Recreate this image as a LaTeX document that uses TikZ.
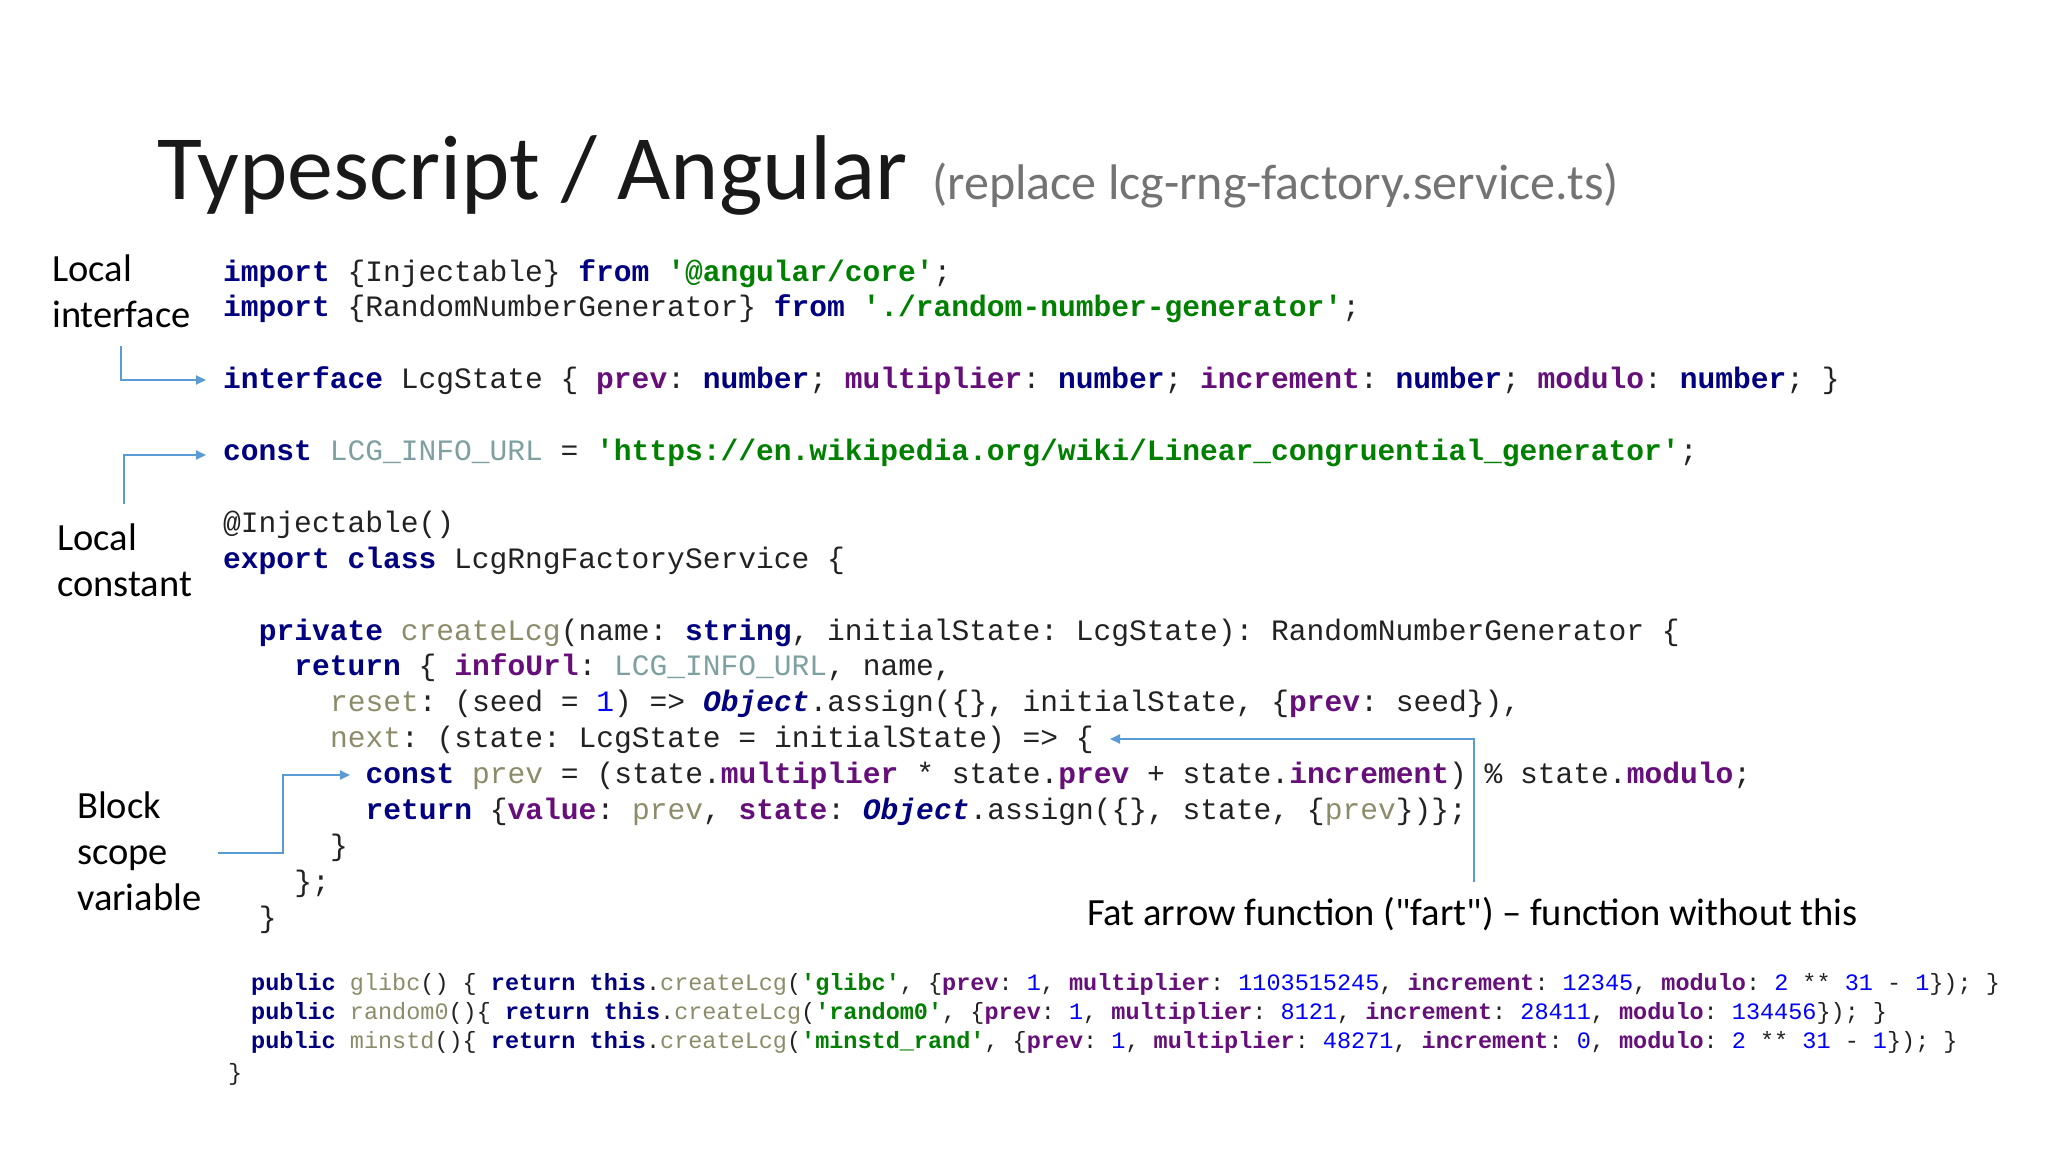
\documentclass[tikz,border=0pt]{standalone}
\usepackage{fontspec}
\setmainfont{Carlito}
\setmonofont{Liberation Mono}
\newfontfamily\plainfont{Carlito}
\usetikzlibrary{arrows.meta}
\definecolor{kwc}{HTML}{000080}
\definecolor{stc}{HTML}{008000}
\definecolor{prc}{HTML}{660E7A}
\definecolor{fnc}{HTML}{8C8C6A}
\definecolor{cnc}{HTML}{7FA0A0}
\definecolor{nmc}{HTML}{0000FF}
\definecolor{txc}{HTML}{222222}
\definecolor{arc}{HTML}{5B9BD5}
\newcommand\kw[1]{{\bfseries\color{kwc}#1}}
\newcommand\ob[1]{{\bfseries\itshape\color{kwc}#1}}
\newcommand\stx[1]{{\bfseries\color{stc}#1}}
\newcommand\prx[1]{{\bfseries\color{prc}#1}}
\newcommand\fnx[1]{{\color{fnc}#1}}
\newcommand\cnx[1]{{\color{cnc}#1}}
\newcommand\nmx[1]{{\color{nmc}#1}}
\begin{document}
\begin{tikzpicture}[x=1pt,y=-1pt,
  code/.style={anchor=base west,inner sep=0pt,font=\ttfamily\fontsize{29.6}{36}\selectfont,text=txc},
  small/.style={anchor=base west,inner sep=0pt,font=\ttfamily\fontsize{23.5}{28}\selectfont,text=txc},
  lbl/.style={anchor=base west,inner sep=0pt,font=\fontsize{38.5}{46}\selectfont,text=black,align=left},
  arr/.style={draw=arc,line width=2pt,-{Triangle[length=10pt,width=9pt]}}]
\useasboundingbox[fill=white] (0,0) rectangle (2048,1152);
\node[anchor=base west,inner sep=0pt,font=\fontsize{92}{100}\selectfont,text=black!90] (title) at (157,199) {Typescript / Angular};
\node[anchor=base west,inner sep=0pt,font=\fontsize{50}{60}\selectfont,text=black!55] (sub) at (932,199) {(replace lcg-rng-factory.service.ts)};
% code
\def\L#1#2#3#4{\node[code] (#1) at (223+#2*17.8, 281+#3*35.9) {#4};}
\L{c0}{0}{0}{\kw{import} \{Injectable\} \kw{from} \stx{'@angular/core'};}
\L{c1}{0}{1}{\kw{import} \{RandomNumberGenerator\} \kw{from} \stx{'./random-number-generator'};}
\L{c3}{0}{3}{\kw{interface} LcgState \{ \prx{prev}: \kw{number}; \prx{multiplier}: \kw{number}; \prx{increment}: \kw{number}; \prx{modulo}: \kw{number}; \}}
\L{c5}{0}{5}{\kw{const} \cnx{LCG\_INFO\_URL} = \stx{'https://en.wikipedia.org/wiki/Linear\_congruential\_generator'};}
\L{c7}{0}{7}{@Injectable()}
\L{c8}{0}{8}{\kw{export} \kw{class} LcgRngFactoryService \{}
\L{c10}{2}{10}{\kw{private} \fnx{createLcg}(name: \kw{string}, initialState: LcgState): RandomNumberGenerator \{}
\L{c11}{4}{11}{\kw{return} \{ \prx{infoUrl}: \cnx{LCG\_INFO\_URL}, name,}
\L{c12}{6}{12}{\fnx{reset}: (seed = \nmx{1}) => \ob{Object}.assign(\{\}, initialState, \{\prx{prev}: seed\}),}
\L{c13}{6}{13}{\fnx{next}: (state: LcgState = initialState) => \{}
\L{c14}{8}{14}{\kw{const} \fnx{prev} = (state.\prx{multiplier} * state.\prx{prev} + state.\prx{increment}) \% state.\prx{modulo};}
\L{c15}{8}{15}{\kw{return} \{\prx{value}: \fnx{prev}, \prx{state}: \ob{Object}.assign(\{\}, state, \{\fnx{prev}\})\};}
\L{c16}{6}{16}{\}}
\L{c17}{4}{17}{\};}
\L{c18}{2}{18}{\}}
\node[small] (s1) at (251,990) {\kw{public} \fnx{glibc}() \{ \kw{return} \kw{this}.\fnx{createLcg}(\stx{'glibc'}, \{\prx{prev}: \nmx{1}, \prx{multiplier}: \nmx{1103515245}, \prx{increment}: \nmx{12345}, \prx{modulo}: \nmx{2} ** \nmx{31} - \nmx{1}\}); \}};
\node[small] (s2) at (251,1019) {\kw{public} \fnx{random0}()\{ \kw{return} \kw{this}.\fnx{createLcg}(\stx{'random0'}, \{\prx{prev}: \nmx{1}, \prx{multiplier}: \nmx{8121}, \prx{increment}: \nmx{28411}, \prx{modulo}: \nmx{134456}\}); \}};
\node[small] (s3) at (251,1048) {\kw{public} \fnx{minstd}()\{ \kw{return} \kw{this}.\fnx{createLcg}(\stx{'minstd\_rand'}, \{\prx{prev}: \nmx{1}, \prx{multiplier}: \nmx{48271}, \prx{increment}: \nmx{0}, \prx{modulo}: \nmx{2} ** \nmx{31} - \nmx{1}\}); \}};
\node[small] (s4) at (228,1080) {\}};
% labels
\node[lbl] (li) at (52,327) {Local\\interface};
\node[lbl] (lc) at (57,596) {Local\\constant};
\node[lbl] (bs) at (77,910) {Block\\scope\\variable};
\node[lbl] (fa) at (1087,925) {Fat arrow function ({\plainfont"}fart{\plainfont"}) – function without this};
% arrows
\coordinate (a1s) at (121,346); \coordinate (a1e) at (206,380);
\coordinate (a2s) at (124,504); \coordinate (a2e) at (206,455);
\coordinate (a3s) at (218,853); \coordinate (a3m) at (283,853); \coordinate (a3e) at (350,775);
\coordinate (a4s) at (1474,882); \coordinate (a4e) at (1110,739);
\draw[arr] (a1s) |- (a1e);
\draw[arr] (a2s) |- (a2e);
\draw[arr] (a3s) -- (a3m) |- (a3e);
\draw[arr] (a4s) |- (a4e);
\end{tikzpicture}
\end{document}
